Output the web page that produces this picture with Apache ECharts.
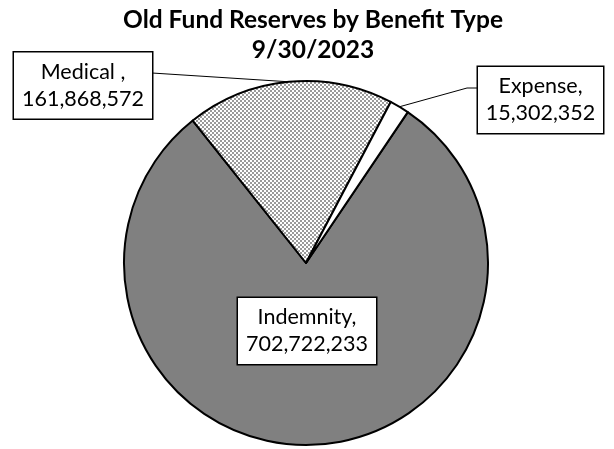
<!DOCTYPE html>
<html>
<head>
<meta charset="utf-8">
<script src="https://cdn.jsdelivr.net/npm/echarts@6/dist/echarts.min.js"></script>
<style>
  html, body { margin: 0; padding: 0; background: #fff; }
  #chart { width: 614px; height: 449px; }
</style>
</head>
<body>
<div id="chart"></div>
<script>
// Reserve amounts per benefit type
const categories = ['Indemnity', 'Medical ', 'Expense'];
const reserves = [702722233, 161868572, 15302352];
const titleLines = ['Old Fund Reserves by Benefit Type', '9/30/2023'];

const FONT = 'Lato, "Noto Sans", sans-serif';

// Small checkerboard tile for the Medical slice
function checkerTile() {
  const c = document.createElement('canvas');
  c.width = 4; c.height = 4;
  const g = c.getContext('2d');
  g.fillStyle = '#ffffff';
  g.fillRect(0, 0, 4, 4);
  g.fillStyle = '#9a9a9a';
  g.fillRect(0, 0, 2, 2);
  g.fillRect(2, 2, 2, 2);
  return c;
}

const fills = ['#808080', { image: checkerTile(), repeat: 'repeat' }, '#ffffff'];

// Label box placement (center of each callout box) and width
const boxCenter = [[307, 331], [83, 85.5], [540.5, 100]];
const boxWidth = [122, 122, 109];

const chart = echarts.init(document.getElementById('chart'), null, { renderer: 'canvas' });

const pieData = categories.map((name, i) => ({
  name: name,
  value: reserves[i],
  itemStyle: { color: fills[i] },
  label: { width: boxWidth[i] },
  labelLine: { show: i !== 0 }
}));

chart.setOption({
  animation: false,
  title: {
    text: titleLines.join('\n'),
    left: 308,
    top: 0,
    textAlign: 'center',
    textStyle: { fontFamily: FONT, fontSize: 24.5, fontWeight: 'bold', color: '#000', lineHeight: 30 }
  },
  series: [{
    type: 'pie',
    center: [306, 263],
    radius: 182,
    startAngle: 56,
    clockwise: true,
    avoidLabelOverlap: false,
    itemStyle: { borderColor: '#000', borderWidth: 2 },
    label: {
      show: true,
      position: 'outside',
      fontFamily: FONT,
      fontSize: 21.5,
      lineHeight: 27,
      color: '#000',
      align: 'center',
      overflow: 'none',
      backgroundColor: '#fff',
      borderColor: '#000',
      borderWidth: 1.5,
      padding: [6, 8],
      formatter: p => p.name + ',\n' + p.value.toLocaleString('en-US')
    },
    labelLine: { show: true, lineStyle: { color: '#000', width: 1 } },
    labelLayout: function (params) {
      const i = params.dataIndex;
      const c = boxCenter[i];
      const out = { x: c[0], y: c[1], align: 'center', verticalAlign: 'middle' };
      if (i !== 0 && params.labelLinePoints) {
        const start = params.labelLinePoints[0];
        const halfW = (boxWidth[i] + 16) / 2;
        if (start[0] < c[0]) {
          // box to the right of the slice: bend then run horizontally into its left side
          const end = [c[0] - halfW, c[1] - 12];
          out.labelLinePoints = [start, [end[0] - 11, end[1]], end];
        } else {
          // box to the left: straight line into its right side
          const end = [c[0] + halfW, c[1] - 12.5];
          out.labelLinePoints = [start, end, end];
        }
      }
      return out;
    },
    data: pieData
  }]
});
</script>
</body>
</html>
